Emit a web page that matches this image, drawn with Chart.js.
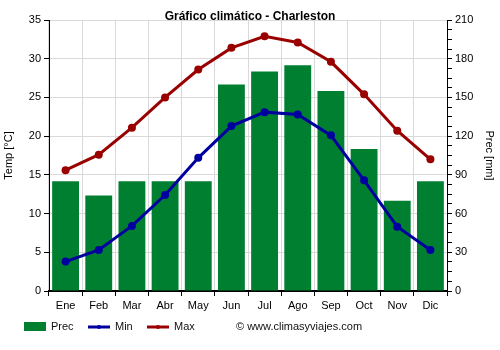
<!DOCTYPE html>
<html><head><meta charset="utf-8">
<script src="https://cdn.jsdelivr.net/npm/chart.js@4"></script>
<style>html,body{margin:0;padding:0;background:#fff}#c{display:block}</style>
</head><body>
<canvas id="c" width="500" height="350"></canvas>
<script>
const months = ['Ene','Feb','Mar','Abr','May','Jun','Jul','Ago','Sep','Oct','Nov','Dic'];
const prec = [85, 74, 85, 85, 85, 160, 170, 175, 155, 110, 70, 85];
const tMin = [3.8, 5.3, 8.4, 12.4, 17.2, 21.3, 23.1, 22.8, 20.1, 14.3, 8.3, 5.3];
const tMax = [15.6, 17.6, 21.1, 25.0, 28.6, 31.4, 32.9, 32.1, 29.6, 25.4, 20.7, 17.0];
const titleText = 'Gráfico climático - Charleston';
const FONT = '"Liberation Sans", Arial, sans-serif';
const GREEN = '#007f31', BLUE = '#0000a0', RED = '#990000';

const extras = {
  id: 'extras',
  afterDraw(chart) {
    const ctx = chart.ctx;
    ctx.save();
    ctx.fillStyle = '#000';
    ctx.font = 'bold 12px ' + FONT;
    ctx.textAlign = 'center';
    ctx.textBaseline = 'middle';
    ctx.fillText(titleText, 250, 17);
    const ly = 327;
    ctx.font = '11px ' + FONT;
    ctx.textAlign = 'left';
    ctx.fillStyle = GREEN;
    ctx.fillRect(24, 322, 22, 9);
    ctx.fillStyle = '#111';
    ctx.fillText('Prec', 51, ly);
    const line = (x, c, t) => {
      ctx.strokeStyle = c; ctx.lineWidth = 3;
      ctx.beginPath(); ctx.moveTo(x, ly); ctx.lineTo(x + 22, ly); ctx.stroke();
      ctx.fillStyle = c; ctx.beginPath(); ctx.arc(x + 11, ly, 2, 0, Math.PI * 2); ctx.fill();
      ctx.fillStyle = '#111'; ctx.fillText(t, x + 27, ly);
    };
    line(88, BLUE, 'Min');
    line(147, RED, 'Max');
    ctx.fillStyle = '#111';
    ctx.fillText('© www.climasyviajes.com', 236, ly);
    ctx.restore();
  }
};

new Chart(document.getElementById('c'), {
  data: {
    labels: months,
    datasets: [
      { type: 'line', label: 'Max', data: tMax, yAxisID: 'y', borderColor: RED, backgroundColor: RED,
        borderWidth: 3, pointRadius: 4, pointBorderWidth: 0, pointHoverRadius: 4, tension: 0, order: 1 },
      { type: 'line', label: 'Min', data: tMin, yAxisID: 'y', borderColor: BLUE, backgroundColor: BLUE,
        borderWidth: 3, pointRadius: 4, pointBorderWidth: 0, pointHoverRadius: 4, tension: 0, order: 2 },
      { type: 'bar', label: 'Prec', data: prec, yAxisID: 'y1', backgroundColor: GREEN,
        barPercentage: 0.81, categoryPercentage: 1, order: 3 }
    ]
  },
  options: {
    responsive: false,
    animation: false,
    events: [],
    layout: { padding: { top: 20, bottom: 35, left: 0, right: 0 } },
    plugins: { legend: { display: false }, title: { display: false }, tooltip: { enabled: false } },
    scales: {
      x: {
        offset: true,
        grid: { offset: true, color: '#d9d9d9', tickColor: '#000', tickLength: 5 },
        border: { color: '#000', width: 2 },
        ticks: { color: '#000', font: { family: FONT, size: 11 }, padding: 3, maxRotation: 0 },
        afterFit(s) { s.height = 24; }
      },
      y: {
        position: 'left', min: 0, max: 35,
        ticks: { stepSize: 5, color: '#000', font: { family: FONT, size: 11 }, padding: 3 },
        grid: { color: '#d9d9d9', tickColor: '#000', tickLength: 5 },
        border: { color: '#000', width: 1 },
        title: { display: true, text: 'Temp [°C]', color: '#000', font: { family: FONT, size: 11 }, padding: { top: 2, bottom: 0 } },
        afterFit(s) { s.width = 49; }
      },
      y1: {
        position: 'right', min: 0, max: 210,
        ticks: { stepSize: 7.5, autoSkip: false, color: '#000', font: { family: FONT, size: 11 }, padding: 3,
          callback: v => (Math.abs(v % 30) < 1e-6 ? String(v) : '') },
        grid: { drawOnChartArea: false, tickColor: '#000', tickLength: 5 },
        border: { color: '#000', width: 1 },
        title: { display: true, text: 'Prec [mm]', color: '#000', font: { family: FONT, size: 11 }, padding: { top: 4, bottom: 0 } },
        afterFit(s) { s.width = 53; }
      }
    }
  },
  plugins: [extras]
});
</script>
</body></html>
